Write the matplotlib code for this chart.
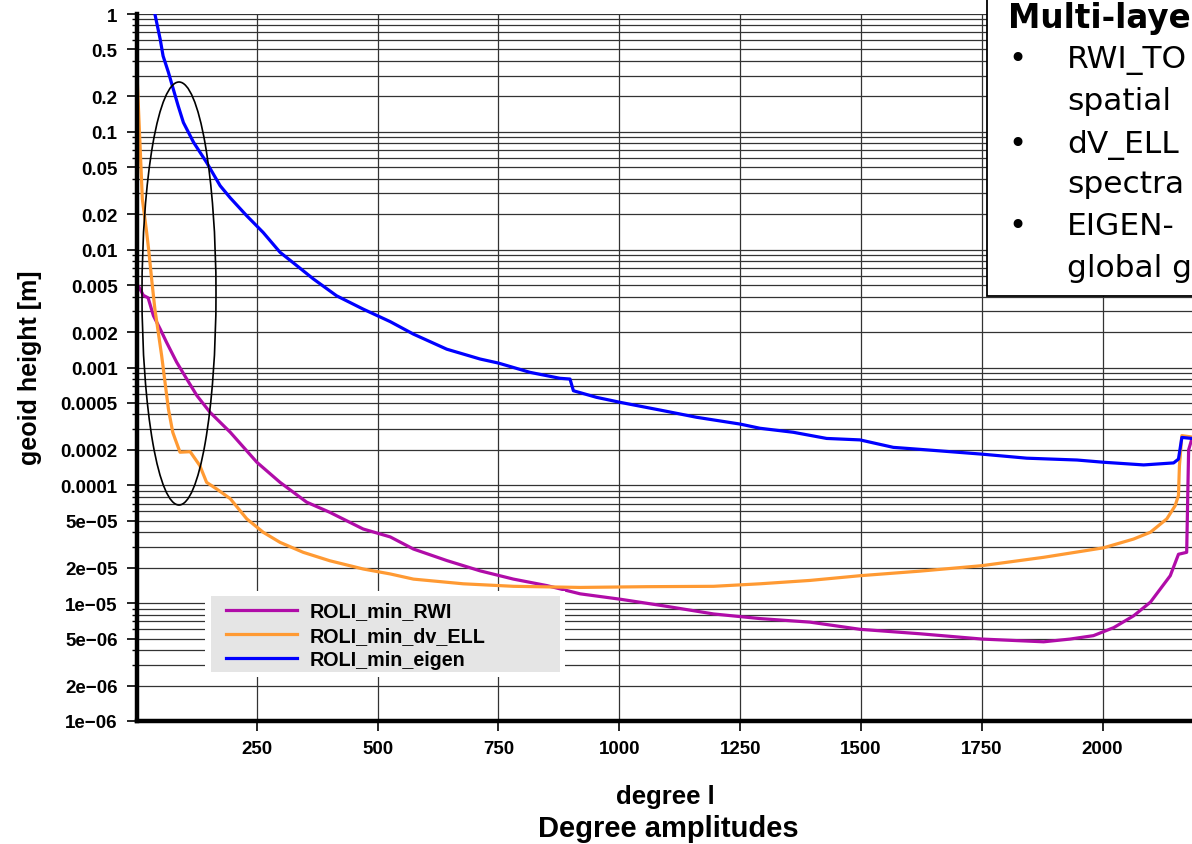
"""
plot.py - degree amplitudes of geoid height differences (ROLI comparisons).
"""

import matplotlib
matplotlib.use("Agg")
import matplotlib.pyplot as plt
from matplotlib.patches import Ellipse, Rectangle
from matplotlib.ticker import FixedLocator, LogLocator, NullFormatter, NullLocator


# ROLI_min_RWI (purple)
degree_rwi = [2, 5, 10, 15, 25, 36, 50, 63, 84, 105, 126, 153, 195, 250, 298, 353, 401,
              470, 526, 574, 643, 712, 781, 850, 919, 1002, 1091, 1195, 1291, 1395, 1498,
              1622, 1750, 1878, 1933, 1981, 2023, 2064, 2099, 2140, 2157, 2174, 2178, 2185]
geoid_rwi = [4.4e-3, 4.9e-3, 4.5e-3, 4.1e-3, 3.9e-3, 2.75e-3, 2.12e-3, 1.64e-3, 1.11e-3,
             7.98e-4, 5.77e-4, 4.17e-4, 2.82e-4, 1.57e-4, 1.06e-4, 7.2e-5, 5.9e-5, 4.26e-5,
             3.65e-5, 2.88e-5, 2.3e-5, 1.88e-5, 1.6e-5, 1.41e-5, 1.2e-5, 1.08e-5, 9.5e-6,
             8.1e-6, 7.4e-6, 6.9e-6, 6.0e-6, 5.5e-6, 4.96e-6, 4.7e-6, 4.96e-6, 5.3e-6,
             6.2e-6, 7.8e-6, 1.02e-5, 1.71e-5, 2.6e-5, 2.7e-5, 2.0e-4, 2.5e-4]

# ROLI_min_dv_ELL (orange)
degree_ell = [2, 13, 22, 26, 33, 39, 46, 53, 60, 67, 76, 81, 91, 112, 132, 146, 167, 195,
              229, 263, 298, 346, 401, 470, 526, 574, 677, 781, 919, 1057, 1195, 1291,
              1395, 1498, 1622, 1750, 1878, 2002, 2064, 2099, 2133, 2150, 2157, 2159,
              2164, 2185]
geoid_ell = [0.31, 0.027, 0.014, 0.0101, 0.00528, 0.00313, 0.00199, 0.00126, 7.48e-4,
             4.44e-4, 2.82e-4, 2.47e-4, 1.91e-4, 1.93e-4, 1.47e-4, 1.06e-4, 9.3e-5, 7.7e-5,
             5.2e-5, 4.0e-5, 3.28e-5, 2.7e-5, 2.29e-5, 1.95e-5, 1.77e-5, 1.6e-5, 1.46e-5,
             1.39e-5, 1.36e-5, 1.38e-5, 1.39e-5, 1.46e-5, 1.56e-5, 1.71e-5, 1.87e-5,
             2.08e-5, 2.45e-5, 2.95e-5, 3.5e-5, 4.0e-5, 5.2e-5, 6.7e-5, 8.2e-5, 1.47e-4,
             2.64e-4, 2.57e-4]

# ROLI_min_eigen (blue)
degree_eigen = [33, 39, 50, 56, 67, 77, 87, 98, 119, 146, 174, 195, 229, 263, 298, 333,
                367, 415, 470, 526, 574, 643, 712, 750, 815, 877, 898, 905, 953, 1002,
                1091, 1160, 1250, 1291, 1360, 1429, 1498, 1567, 1636, 1750, 1843, 1947,
                2002, 2085, 2147, 2157, 2164, 2185]
geoid_eigen = [1.25, 1.0, 0.61, 0.44, 0.32, 0.231, 0.167, 0.12, 0.0815, 0.055, 0.0349,
               0.0275, 0.0194, 0.014, 0.0095, 0.0073, 0.00564, 0.00406, 0.00313, 0.00245,
               0.00192, 0.00143, 0.00118, 0.00109, 9.1e-4, 8.1e-4, 7.98e-4, 6.35e-4,
               5.58e-4, 5.06e-4, 4.3e-4, 3.78e-4, 3.31e-4, 3.05e-4, 2.82e-4, 2.5e-4,
               2.43e-4, 2.1e-4, 2.0e-4, 1.84e-4, 1.7e-4, 1.64e-4, 1.57e-4, 1.49e-4,
               1.55e-4, 1.67e-4, 2.55e-4, 2.5e-4]

series_labels = ["ROLI_min_RWI", "ROLI_min_dv_ELL", "ROLI_min_eigen"]

x_ticks = [250, 500, 750, 1000, 1250, 1500, 1750, 2000]
y_ticks = [1, 0.5, 0.2, 0.1, 0.05, 0.02, 0.01, 0.005, 0.002, 0.001, 0.0005, 0.0002,
           0.0001, 5e-5, 2e-5, 1e-5, 5e-6, 2e-6, 1e-6]
y_tick_labels = ["1", "0.5", "0.2", "0.1", "0.05", "0.02", "0.01", "0.005", "0.002",
                 "0.001", "0.0005", "0.0002", "0.0001", "5e\u221205", "2e\u221205",
                 "1e\u221205", "5e\u221206", "2e\u221206", "1e\u221206"]

box_title = "Multi-laye"
box_lines = [("\u2022", "RWI_TO"), (None, "spatial"), ("\u2022", "dV_ELL"),
             (None, "spectra"), ("\u2022", "EIGEN-"), (None, "global g")]

W, H = 1192, 845
COLORS = ["#b00ca8", "#ff9a33", "#0000ff"]
FONT = "Liberation Sans"


def fx(px):
    return px / W


def fy(py):
    return 1 - py / H


def main():
    fig = plt.figure(figsize=(W / 100, H / 100), dpi=100)
    ax = fig.add_axes([fx(137), fy(722), (1192 - 137) / W, (722 - 15) / H])

    ax.plot(degree_rwi, geoid_rwi, color=COLORS[0], lw=2.3, label=series_labels[0], zorder=2)
    ax.plot(degree_ell, geoid_ell, color=COLORS[1], lw=2.3, label=series_labels[1], zorder=2)
    ax.plot(degree_eigen, geoid_eigen, color=COLORS[2], lw=2.3, label=series_labels[2], zorder=2)

    ax.set_yscale("log")
    ax.set_xlim(2, 2185)
    ax.set_ylim(1e-6, 1)

    ax.xaxis.set_major_locator(FixedLocator(x_ticks))
    ax.xaxis.set_minor_locator(NullLocator())
    ax.set_xticklabels([str(t) for t in x_ticks])
    ax.yaxis.set_major_locator(FixedLocator(y_ticks))
    ax.set_yticklabels(y_tick_labels)
    ax.yaxis.set_minor_locator(LogLocator(base=10, subs=range(1, 10), numticks=20))
    ax.yaxis.set_minor_formatter(NullFormatter())

    for lab in ax.get_xticklabels() + ax.get_yticklabels():
        lab.set_fontfamily(FONT)
        lab.set_fontweight("bold")
        lab.set_fontsize(13.5)

    ax.tick_params(axis="both", which="major", direction="out", length=7, width=1.2, pad=7)
    ax.tick_params(axis="y", which="minor", direction="out", length=3.5, width=1.0)

    ax.set_axisbelow(True)
    ax.grid(True, which="both", axis="y", color="#333333", lw=0.9)
    ax.grid(True, which="major", axis="x", color="#333333", lw=0.9)

    for side in ["top", "right"]:
        ax.spines[side].set_visible(False)
    for side in ["left", "bottom"]:
        ax.spines[side].set_linewidth(3.2)
        ax.spines[side].set_zorder(5)

    # legend panel (white margin + grey box)
    ax.add_patch(Rectangle((0.0645, 0.0622), 0.341, 0.1216, transform=ax.transAxes,
                           facecolor="white", edgecolor="none", zorder=3))
    ax.add_patch(Rectangle((0.0701, 0.0693), 0.3308, 0.1075, transform=ax.transAxes,
                           facecolor="#e5e5e5", edgecolor="none", zorder=3))
    leg = ax.legend(loc="upper left", bbox_to_anchor=(0.0701, 0.190), frameon=False,
                    borderaxespad=0, borderpad=0.75, handlelength=3.6, handletextpad=0.65,
                    labelspacing=0.26, prop={"family": FONT, "weight": "bold", "size": 14.2})
    leg.set_zorder(4)

    # highlight ellipse around low degrees
    ax.add_patch(Ellipse((42 / 1055, (722 - 294.5) / 707), 74 / 1055, 423 / 707,
                         transform=ax.transAxes, fill=False, edgecolor="black",
                         lw=1.2, zorder=6, clip_on=False))

    fig.text(fx(30), fy(368), "geoid height [m]", rotation=90, ha="center", va="center",
             family=FONT, weight="bold", fontsize=18)
    fig.text(fx(665), fy(797), "degree l", ha="center", va="center",
             family=FONT, weight="bold", fontsize=18.5)
    fig.text(fx(668), fy(829), "Degree amplitudes", ha="center", va="center",
             family=FONT, weight="bold", fontsize=21)

    # slide text box, cut off at the right edge
    fig.add_artist(Rectangle((fx(987), fy(297)), 0.3, 0.5, transform=fig.transFigure,
                             facecolor="white", edgecolor="black", lw=1.3, zorder=10))
    fig.text(fx(1008), fy(28), box_title, ha="left", va="baseline",
             family="DejaVu Sans", weight="bold", fontsize=23.5, zorder=11)
    baselines = [68, 110, 153, 193, 235, 277]
    for (bullet, line), base in zip(box_lines, baselines):
        if bullet:
            fig.text(fx(1008), fy(base), bullet, ha="left", va="baseline",
                     family="DejaVu Sans", fontsize=22, zorder=11)
        fig.text(fx(1067), fy(base), line, ha="left", va="baseline",
                 family="DejaVu Sans", fontsize=22.5, zorder=11)

    fig.savefig("out.png", dpi=100)
    plt.close(fig)


if __name__ == "__main__":
    main()
